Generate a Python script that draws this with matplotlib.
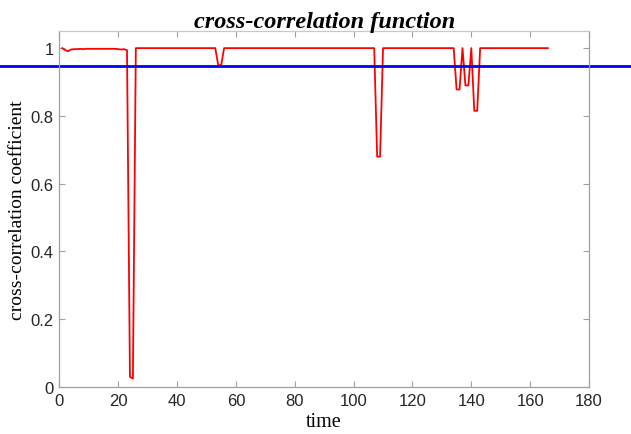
import matplotlib
matplotlib.use("Agg")
import matplotlib.pyplot as plt

# time samples
time = list(range(1, 167))

# cross-correlation coefficient
coef = [
    1.000, 0.994, 0.991, 0.996, 0.997, 0.997, 0.998, 0.997, 0.998, 0.998,  # 1-10
    0.998, 0.998, 0.998, 0.998, 0.998, 0.998, 0.998, 0.998, 0.998, 0.997,  # 11-20
    0.996, 0.997, 0.994, 0.030, 0.025, 1.000, 1.000, 1.000, 1.000, 1.000,  # 21-30
    1.000, 1.000, 1.000, 1.000, 1.000, 1.000, 1.000, 1.000, 1.000, 1.000,  # 31-40
    1.000, 1.000, 1.000, 1.000, 1.000, 1.000, 1.000, 1.000, 1.000, 1.000,  # 41-50
    1.000, 1.000, 1.000, 0.950, 0.950, 1.000, 1.000, 1.000, 1.000, 1.000,  # 51-60
    1.000, 1.000, 1.000, 1.000, 1.000, 1.000, 1.000, 1.000, 1.000, 1.000,  # 61-70
    1.000, 1.000, 1.000, 1.000, 1.000, 1.000, 1.000, 1.000, 1.000, 1.000,  # 71-80
    1.000, 1.000, 1.000, 1.000, 1.000, 1.000, 1.000, 1.000, 1.000, 1.000,  # 81-90
    1.000, 1.000, 1.000, 1.000, 1.000, 1.000, 1.000, 1.000, 1.000, 1.000,  # 91-100
    1.000, 1.000, 1.000, 1.000, 1.000, 1.000, 1.000, 0.680, 0.680, 1.000,  # 101-110
    1.000, 1.000, 1.000, 1.000, 1.000, 1.000, 1.000, 1.000, 1.000, 1.000,  # 111-120
    1.000, 1.000, 1.000, 1.000, 1.000, 1.000, 1.000, 1.000, 1.000, 1.000,  # 121-130
    1.000, 1.000, 1.000, 1.000, 0.878, 0.878, 1.000, 0.890, 0.890, 1.000,  # 131-140
    0.815, 0.815, 1.000, 1.000, 1.000, 1.000, 1.000, 1.000, 1.000, 1.000,  # 141-150
    1.000, 1.000, 1.000, 1.000, 1.000, 1.000, 1.000, 1.000, 1.000, 1.000,  # 151-160
    1.000, 1.000, 1.000, 1.000, 1.000, 1.000,                              # 161-166
]

threshold = 0.946

x_ticks = [0, 20, 40, 60, 80, 100, 120, 140, 160, 180]
y_ticks = [0, 0.2, 0.4, 0.6, 0.8, 1]
y_tick_labels = ["0", "0.2", "0.4", "0.6", "0.8", "1"]

fig = plt.figure(figsize=(6.31, 4.35), dpi=100)
ax = fig.add_axes([0.094, 0.108, 0.8395, 0.818])

ax.plot(time, coef, color="#FF0000", lw=1.3)
ax.axhline(threshold, xmin=-0.2, xmax=1.2, color="#0000FF", lw=2.0, clip_on=False)

ax.set_xlim(0, 180)
ax.set_ylim(0, 1.05)
ax.set_xticks(x_ticks)
ax.set_yticks(y_ticks)
ax.set_yticklabels(y_tick_labels)

for s in ["left", "bottom", "right"]:
    ax.spines[s].set_color("#A0A0A0")
    ax.spines[s].set_linewidth(0.9)
ax.spines["top"].set_color("#C8C8C8")
ax.spines["top"].set_linewidth(0.9)

ax.tick_params(direction="in", length=4, width=0.8, color="#A0A0A0",
               top=True, right=True, labelsize=12, labelcolor="#262626", pad=4)
for lab in ax.get_xticklabels() + ax.get_yticklabels():
    lab.set_family("Liberation Sans")

ax.set_xlabel("time", family="Liberation Serif", fontsize=14.5, labelpad=3)
ax.set_ylabel("cross-correlation coefficient", family="Liberation Serif",
              fontsize=14, labelpad=3)
ax.set_title("cross-correlation function", family="Liberation Serif",
             fontsize=17.5, fontweight="bold", fontstyle="italic", pad=3)

fig.savefig("out.png", dpi=100)
